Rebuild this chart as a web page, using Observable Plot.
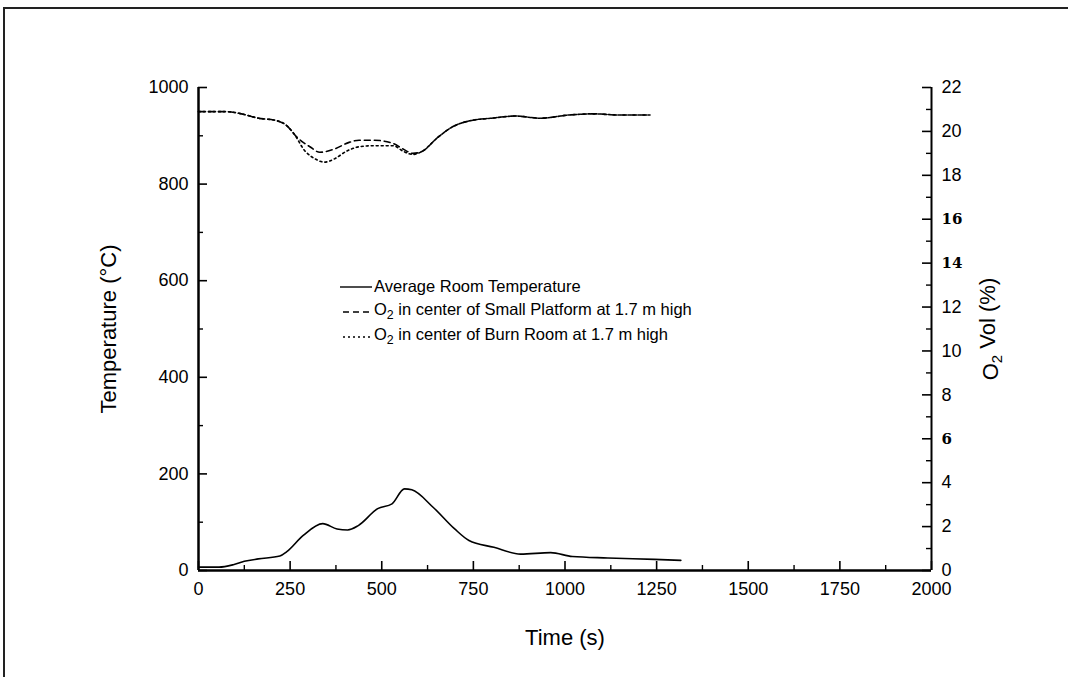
<!DOCTYPE html>
<html>
<head>
<meta charset="utf-8">
<script src="https://cdn.jsdelivr.net/npm/d3@7"></script>
<script src="https://cdn.jsdelivr.net/npm/@observablehq/plot@0.6"></script>
<style>
  html, body { margin: 0; padding: 0; background: #fff; }
  #wrap { position: relative; width: 1068px; height: 677px; overflow: hidden; font-family: "Liberation Sans", Arial, sans-serif; }
  #frame { position: absolute; left: 3px; top: 7px; width: 1200px; height: 800px; border-top: 2px solid #222; border-left: 2px solid #222; }
  #chart { position: absolute; left: 0; top: 0; }
  #chart svg g[aria-label$="axis label"] text { font-size: 22px; }
  #legend { position: absolute; left: 340px; top: 274px; font-size: 16.5px; color: #000; }
  #legend .row { display: flex; align-items: center; height: 25px; white-space: nowrap; }
  #legend svg { width: 32px; height: 10px; margin-right: 2px; }
  sub { font-size: 0.75em; }
</style>
</head>
<body>
<div id="wrap">
  <div id="frame"></div>
  <div id="chart"></div>
  <div id="legend"></div>
</div>
<script>
// ---- data ----
const tempTime = [0, 56, 95, 125, 163, 222, 241, 285, 339, 378, 407, 436, 489, 528, 562, 582, 640, 699, 738, 806, 879, 961, 1020, 1117, 1244, 1316];
const tempVal  = [7, 7, 12, 19, 24, 30, 39, 72, 97, 86, 84, 93, 128, 138, 169, 167, 131, 86, 62, 48, 34, 37, 29, 26, 23, 21];

const platTime = [0, 77, 117, 164, 211, 238, 271, 304, 331, 371, 411, 438, 478, 531, 558, 585, 611, 651, 692, 745, 798, 865, 932, 1012, 1079, 1145, 1232];
const platO2   = [20.9, 20.9, 20.8, 20.6, 20.5, 20.3, 19.7, 19.3, 19.05, 19.2, 19.5, 19.6, 19.6, 19.45, 19.2, 19.0, 19.1, 19.7, 20.2, 20.5, 20.6, 20.7, 20.6, 20.75, 20.8, 20.75, 20.75];

const burnTime = [0, 77, 117, 164, 211, 238, 258, 291, 318, 344, 371, 404, 438, 478, 531, 558, 585, 611, 651, 692, 745, 798, 865, 932, 1012, 1079, 1145, 1232];
const burnO2   = [20.9, 20.9, 20.8, 20.6, 20.5, 20.3, 19.95, 19.1, 18.75, 18.6, 18.75, 19.1, 19.3, 19.35, 19.35, 19.1, 18.95, 19.1, 19.7, 20.2, 20.5, 20.6, 20.7, 20.6, 20.75, 20.8, 20.75, 20.75];

const xMajor = [0, 250, 500, 750, 1000, 1250, 1500, 1750, 2000];
const xMinor = [125, 375, 625, 875, 1125, 1375, 1625, 1875];
const tMajor = [0, 200, 400, 600, 800, 1000];
const tMinor = [100, 300, 500, 700, 900];
const oMajor = [0, 2, 4, 6, 8, 10, 12, 14, 16, 18, 20, 22];
const oMinor = [1, 3, 5, 7, 9, 11, 13, 15, 17, 19, 21];

const legendLabels = [
  "Average Room Temperature",
  "O<sub>2</sub> in center of Small Platform at 1.7 m high",
  "O<sub>2</sub> in center of Burn Room at 1.7 m high"
];

// ---- helpers ----
const O2MAX = 22, TMAX = 1000;
const o2ToT = v => v * TMAX / O2MAX;
const tempData = tempTime.map((t, i) => ({t, v: tempVal[i]}));
const platData = platTime.map((t, i) => ({t, v: platO2[i]}));
const burnData = burnTime.map((t, i) => ({t, v: burnO2[i]}));

const W = 1068, H = 677, ML = 198, MR = 137, MT = 87, MB = 107;
const innerW = W - ML - MR, innerH = H - MT - MB;
const majorLen = 9, minorLen = 5;

const chart = Plot.plot({
  width: W, height: H,
  marginLeft: ML, marginRight: MR, marginTop: MT, marginBottom: MB,
  x: {domain: [0, 2000]},
  y: {domain: [0, 1000]},
  style: {fontFamily: "'Liberation Sans', Arial, sans-serif", fontSize: "18px", background: "transparent", color: "#000", overflow: "visible"},
  marks: [
    // tick marks (inward)
    Plot.tickY(tMajor, {y: d => d, insetRight: innerW - majorLen, stroke: "#000", strokeWidth: 1.6}),
    Plot.tickY(tMinor, {y: d => d, insetRight: innerW - minorLen, stroke: "#000", strokeWidth: 1.4}),
    Plot.tickY(oMajor.map(o2ToT), {y: d => d, insetLeft: innerW - majorLen, stroke: "#000", strokeWidth: 1.6}),
    Plot.tickY(oMinor.map(o2ToT), {y: d => d, insetLeft: innerW - minorLen, stroke: "#000", strokeWidth: 1.4}),
    Plot.tickX(xMajor, {x: d => d, insetTop: innerH - majorLen, stroke: "#000", strokeWidth: 1.6}),
    Plot.tickX(xMinor, {x: d => d, insetTop: innerH - minorLen, stroke: "#000", strokeWidth: 1.4}),
    // axis lines
    Plot.ruleX([0], {stroke: "#000", strokeWidth: 2.5}),
    Plot.ruleX([2000], {stroke: "#000", strokeWidth: 2}),
    Plot.ruleY([0], {stroke: "#000", strokeWidth: 2.5}),
    // axes labels
    Plot.axisX(xMajor, {anchor: "bottom", tickSize: 0, tickPadding: 12, tickFormat: d => String(d), label: "Time (s)", labelAnchor: "center", labelArrow: "none", labelOffset: 74}),
    Plot.axisY(tMajor, {anchor: "left", tickSize: 0, tickPadding: 10, tickFormat: d => String(d), label: "Temperature (°C)", labelAnchor: "center", labelArrow: "none", labelOffset: 98}),
    Plot.axisY(oMajor.map(o2ToT), {anchor: "right", tickSize: 0, tickPadding: 10, tickFormat: d => String(Math.round(d * O2MAX / TMAX)), label: "O2 Vol (%)", labelAnchor: "center", labelArrow: "none", labelOffset: 66}),
    // data
    Plot.line(tempData, {x: "t", y: "v", stroke: "#000", strokeWidth: 1.6, curve: "monotone-x"}),
    Plot.line(platData, {x: "t", y: d => o2ToT(d.v), stroke: "#000", strokeWidth: 1.6, strokeDasharray: "6,4", curve: "monotone-x"}),
    Plot.line(burnData, {x: "t", y: d => o2ToT(d.v), stroke: "#000", strokeWidth: 1.6, strokeDasharray: "2,3", curve: "monotone-x"})
  ]
});
document.getElementById("chart").appendChild(chart);

// subscript for the right axis title, odd bold serif tick labels as in the scan
d3.select(chart).selectAll('g[aria-label="y-axis label"] text').each(function() {
  const t = d3.select(this);
  if (t.text().startsWith("O2")) {
    t.text(null);
    t.append("tspan").text("O");
    t.append("tspan").attr("dy", "0.3em").attr("font-size", "15px").text("2");
    t.append("tspan").attr("dy", "-0.3em").text(" Vol (%)");
  }
});
d3.select(chart).selectAll('g[aria-label="y-axis tick label"] text').each(function() {
  const t = d3.select(this);
  if (["16", "14", "6"].includes(t.text())) {
    t.attr("font-family", "'DejaVu Serif', 'Liberation Serif', serif").attr("font-weight", "bold").attr("font-size", "15px");
  }
  if (t.text() === "0" && +t.attr("font-size") !== 15) {
    // nothing: keep default
  }
});

// legend
const dashes = [null, "6,4", "2,3"];
const leg = d3.select("#legend");
legendLabels.forEach((lab, i) => {
  const row = leg.append("div").attr("class", "row");
  const s = row.append("svg").attr("viewBox", "0 0 32 10");
  s.append("line").attr("x1", i === 0 ? 0 : 3).attr("x2", 32).attr("y1", 5).attr("y2", 5)
    .attr("stroke", "#000").attr("stroke-width", 1.4).attr("stroke-dasharray", dashes[i]);
  row.append("span").html(lab);
});
</script>
</body>
</html>
